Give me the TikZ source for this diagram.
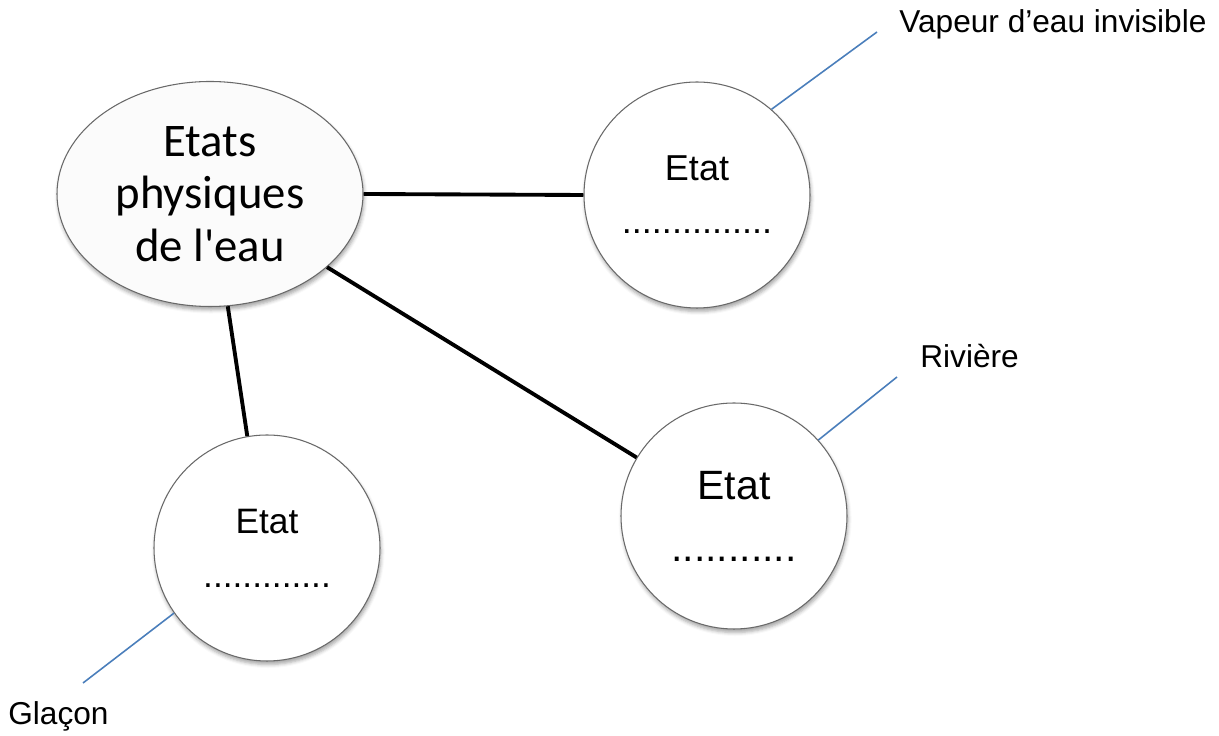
\documentclass[tikz,border=0pt]{standalone}
\usepackage{fontspec}
\setmainfont{Liberation Sans}
\newfontfamily\carlito{Carlito}
\usetikzlibrary{shapes.geometric,shadows.blur}

\definecolor{bleutrait}{RGB}{74,126,187}
\definecolor{bord}{RGB}{105,105,105}

\tikzset{
  ombre/.style={blur shadow={shadow xshift=0.6pt, shadow yshift=-2pt, shadow blur radius=2pt, shadow opacity=35}},
  bulle/.style={circle, draw=bord, line width=0.6pt, fill=white, minimum size=4.52cm, inner sep=0pt, align=center, ombre},
  lien/.style={line width=2.2pt},
  repere/.style={draw=bleutrait, line width=0.9pt},
  legende/.style={inner sep=0pt, anchor=base west, font=\fontsize{18pt}{21pt}\selectfont},
}

\begin{document}
\begin{tikzpicture}
  \useasboundingbox (0,0) rectangle (24.38,14.72);

  % central ellipse
  \node[ellipse, draw=bord, line width=0.6pt, minimum width=6.12cm, minimum height=4.5cm,
        inner sep=0pt, align=center, fill=gray!3, ombre,
        font=\carlito\fontsize{26.6pt}{30pt}\selectfont] (etats) at (4.20,10.84) {Etats\\physiques\\de l'eau};

  % the three states
  \node[bulle, font=\fontsize{20.5pt}{30.2pt}\selectfont] (vapeur) at (13.94,10.82) {Etat\\...............};
  \node[bulle, font=\fontsize{20.1pt}{30.7pt}\selectfont] (glace) at (5.34,3.76) {Etat\\.............};
  \node[bulle, font=\fontsize{23.3pt}{35.3pt}\selectfont] (eau) at (14.68,4.40) {Etat\\...........};

  % links
  \draw[lien] (etats.east) -- (vapeur.west);
  \draw[lien] (etats.-32) -- (eau.149);
  \draw[lien] (etats.-81) -- (glace.100);

  % labels
  \node[legende] (lvapeur) at (17.98,14.06) {Vapeur d’eau invisible};
  \node[legende] (lriviere) at (18.40,7.36) {Rivière};
  \node[legende] (lglacon) at (0.16,0.22) {Glaçon};

  % blue pointers
  \coordinate (pvapeur) at (17.54,14.08);
  \coordinate (priviere) at (17.94,7.18);
  \coordinate (pglacon) at (1.66,1.06);
  \draw[repere] (vapeur.49) -- (pvapeur);
  \draw[repere] (eau.42) -- (priviere);
  \draw[repere] (glace.-145) -- (pglacon);
\end{tikzpicture}
\end{document}
